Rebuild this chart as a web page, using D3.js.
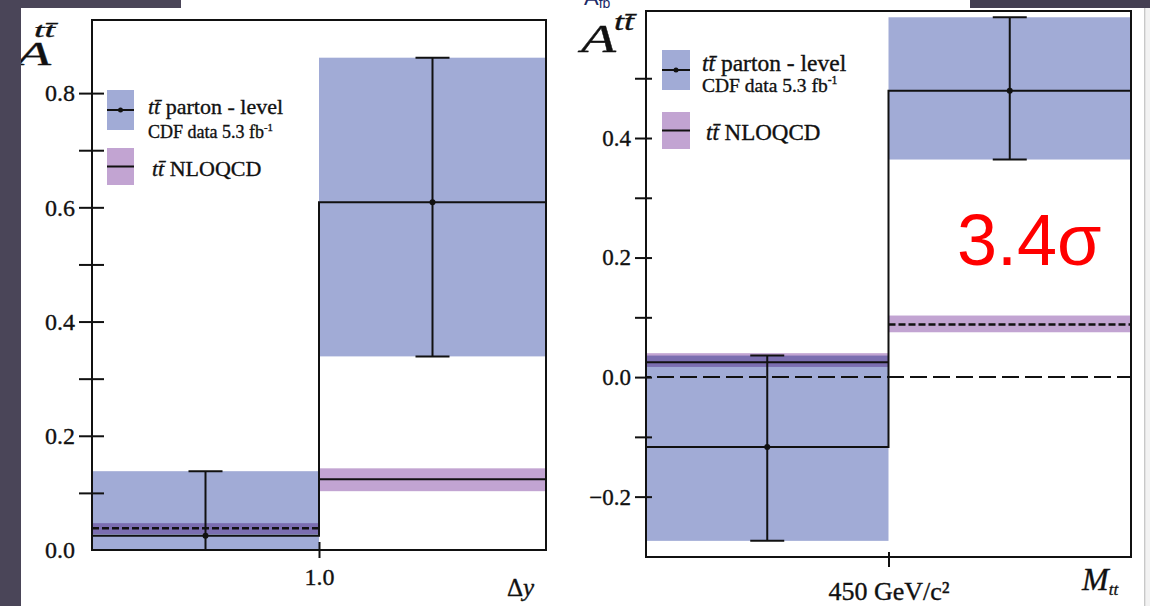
<!DOCTYPE html>
<html>
<head>
<meta charset="utf-8">
<script src="https://cdn.jsdelivr.net/npm/d3@7"></script>
<style>
  body { margin: 0; background: #fff; }
  svg { display: block; font-family: 'Liberation Serif', 'DejaVu Serif', serif; }
  .heavy { stroke: #111; stroke-width: 0.35px; }
</style>
</head>
<body>
<script>
// values

// left plot: bins in rapidity difference, edge at 1.0
var dyEdges = [0, 1, 2];
var dyTickValues = [1];
var dyTickLabels = ['1.0'];
var dyValues = [0.025, 0.609];
var dyErrLow = [-0.09, 0.339];
var dyErrHigh = [0.138, 0.862];
var dyNlo = [0.038, 0.124];
var dyNloLow = [0.028, 0.103];
var dyNloHigh = [0.047, 0.143];
var dyMajorTicks = [0, 0.2, 0.4, 0.6, 0.8];
var dyMinorTicks = [0.1, 0.3, 0.5, 0.7];

// right plot: bins in ttbar invariant mass, edge at 450 GeV/c^2
var mEdges = [0, 1, 2];
var mTickValues = [1];
var mTickLabels = ['450 GeV/c\u00b2'];
var mValues = [-0.117, 0.479];
var mErrLow = [-0.274, 0.364];
var mErrHigh = [0.036, 0.602];
var mNlo = [0.025, 0.088];
var mNloLow = [0.017, 0.075];
var mNloHigh = [0.040, 0.103];
var mMajorTicks = [-0.2, 0, 0.2, 0.4];
var mMinorTicks = [-0.1, 0.1, 0.3, 0.5];

var legendData = ' parton - level';
var legendData2 = 'CDF data 5.3 fb';
var legendNlo = ' NLOQCD';
var ttbar = 'tt\u0304';

var width = 1150,
    height = 606;

var blue = '#a1abd6',
    purple = '#c2a4d2',
    ink = '#111';

var svg = d3.select('body')
  .append('svg')
  .attr('width', width)
  .attr('height', height);

// one panel = frame, bands, step line, error bars, axes
function drawPanel(p) {
  var x = d3.scaleLinear()
    .domain([p.edges[0], p.edges[p.edges.length - 1]])
    .range([p.left, p.right]);
  var y = d3.scaleLinear()
    .domain(p.yDomain)
    .range([p.bottom, p.top]);

  var bins = p.values.map(function(v, i) {
    return {
      x0: p.edges[i], x1: p.edges[i + 1], v: v,
      lo: p.errLow[i], hi: p.errHigh[i],
      nlo: p.nlo[i], nloLo: p.nloLow[i], nloHi: p.nloHigh[i],
      dashed: p.nloDashed[i]
    };
  });

  svg.append('clipPath').attr('id', 'clip-' + p.id)
    .append('rect')
    .attr('x', p.left).attr('y', p.top)
    .attr('width', p.right - p.left).attr('height', p.bottom - p.top);

  var plot = svg.append('g').attr('clip-path', 'url(#clip-' + p.id + ')');

  // measured uncertainty bands
  plot.selectAll('rect.band').data(bins).enter().append('rect')
    .attr('class', 'band')
    .attr('x', function(d) { return x(d.x0); })
    .attr('width', function(d) { return x(d.x1) - x(d.x0); })
    .attr('y', function(d) { return y(d.hi); })
    .attr('height', function(d) { return y(d.lo) - y(d.hi); })
    .attr('fill', blue);

  // NLO prediction bands, multiplied so the overlap darkens
  plot.selectAll('rect.nlo').data(bins).enter().append('rect')
    .attr('class', 'nlo')
    .attr('x', function(d) { return x(d.x0); })
    .attr('width', function(d) { return x(d.x1) - x(d.x0); })
    .attr('y', function(d) { return y(d.nloHi); })
    .attr('height', function(d) { return y(d.nloLo) - y(d.nloHi); })
    .attr('fill', purple)
    .style('mix-blend-mode', 'multiply');

  // zero line (only where zero is inside the frame)
  if (p.yDomain[0] < 0) {
    plot.append('line')
      .attr('x1', p.left - 12).attr('x2', p.right)
      .attr('y1', y(0)).attr('y2', y(0))
      .attr('stroke', ink).attr('stroke-width', 2)
      .attr('stroke-dasharray', '17,6');
  }

  plot.selectAll('line.nloline').data(bins).enter().append('line')
    .attr('class', 'nloline')
    .attr('x1', function(d) { return x(d.x0); })
    .attr('x2', function(d) { return x(d.x1); })
    .attr('y1', function(d) { return y(d.nlo); })
    .attr('y2', function(d) { return y(d.nlo); })
    .attr('stroke', ink)
    .attr('stroke-width', function(d) { return d.dashed ? 2.5 : 2; })
    .attr('stroke-dasharray', function(d) { return d.dashed ? '7,3' : null; });

  // measured histogram as a step line
  var pts = bins.map(function(d) { return [d.x0, d.v]; });
  pts.push([bins[bins.length - 1].x1, bins[bins.length - 1].v]);
  var step = d3.line()
    .x(function(d) { return x(d[0]); })
    .y(function(d) { return y(d[1]); })
    .curve(d3.curveStepAfter);
  plot.append('path')
    .attr('d', step(pts))
    .attr('fill', 'none')
    .attr('stroke', ink)
    .attr('stroke-width', 2);

  // error bars
  var cap = 17;
  var eb = plot.selectAll('g.err').data(bins).enter().append('g').attr('class', 'err');
  eb.append('line')
    .attr('x1', function(d) { return x((d.x0 + d.x1) / 2); })
    .attr('x2', function(d) { return x((d.x0 + d.x1) / 2); })
    .attr('y1', function(d) { return y(d.lo); })
    .attr('y2', function(d) { return y(d.hi); });
  eb.append('line')
    .attr('x1', function(d) { return x((d.x0 + d.x1) / 2) - cap; })
    .attr('x2', function(d) { return x((d.x0 + d.x1) / 2) + cap; })
    .attr('y1', function(d) { return y(d.hi); })
    .attr('y2', function(d) { return y(d.hi); });
  eb.append('line')
    .attr('x1', function(d) { return x((d.x0 + d.x1) / 2) - cap; })
    .attr('x2', function(d) { return x((d.x0 + d.x1) / 2) + cap; })
    .attr('y1', function(d) { return y(d.lo); })
    .attr('y2', function(d) { return y(d.lo); });
  eb.selectAll('line').attr('stroke', ink).attr('stroke-width', 2);
  eb.append('circle')
    .attr('cx', function(d) { return x((d.x0 + d.x1) / 2); })
    .attr('cy', function(d) { return y(d.v); })
    .attr('r', 3).attr('fill', ink);

  // frame
  svg.append('rect')
    .attr('x', p.left).attr('y', p.top)
    .attr('width', p.right - p.left).attr('height', p.bottom - p.top)
    .attr('fill', 'none').attr('stroke', ink).attr('stroke-width', 2);

  // y axis: labelled major ticks outside, all ticks also poke inside
  var yOut = svg.append('g')
    .attr('transform', 'translate(' + p.left + ',0)')
    .call(d3.axisLeft(y).tickValues(p.major).tickSize(p.tickOut).tickPadding(4)
      .tickFormat(d3.format('.1f')));
  var yMinor = svg.append('g')
    .attr('transform', 'translate(' + p.left + ',0)')
    .call(d3.axisLeft(y).tickValues(p.minor).tickSize(p.tickOut).tickFormat(''));
  var yIn = svg.append('g')
    .attr('transform', 'translate(' + p.left + ',0)')
    .call(d3.axisRight(y).tickValues(p.major.concat(p.minor)).tickSize(p.tickIn).tickFormat(''));
  [yOut, yMinor, yIn].forEach(function(a) {
    a.select('.domain').remove();
    a.attr('color', ink).attr('font-family', null);
    a.selectAll('line').attr('stroke-width', 2);
    // no tick on the bottom corner
    a.selectAll('.tick').filter(function(d) { return d === p.yDomain[0]; }).select('line').remove();
  });
  yOut.selectAll('text').attr('font-size', p.labelSize).attr('fill', ink).attr('class', 'heavy');

  // x axis: the bin edge tick
  var xOut = svg.append('g')
    .attr('transform', 'translate(0,' + p.bottom + ')')
    .call(d3.axisBottom(x).tickValues(p.xTicks).tickSize(p.xTickOut).tickPadding(p.xPad)
      .tickFormat(function(d, i) { return p.xLabels[i]; }));
  var xIn = svg.append('g')
    .attr('transform', 'translate(0,' + p.bottom + ')')
    .call(d3.axisTop(x).tickValues(p.xTicks).tickSize(p.xTickIn).tickFormat(''));
  [xOut, xIn].forEach(function(a) {
    a.select('.domain').remove();
    a.attr('color', ink).attr('font-family', null);
    a.selectAll('line').attr('stroke-width', 2);
  });
  xOut.selectAll('text').attr('font-size', p.xLabelSize).attr('fill', ink).attr('class', 'heavy');
}

drawPanel({
  id: 'dy', left: 92, right: 546, top: 20, bottom: 550,
  yDomain: [0, 0.928], edges: dyEdges, values: dyValues,
  errLow: dyErrLow, errHigh: dyErrHigh,
  nlo: dyNlo, nloLow: dyNloLow, nloHigh: dyNloHigh, nloDashed: [true, false],
  major: dyMajorTicks, minor: dyMinorTicks, tickOut: 13, tickIn: 12, labelSize: 24,
  xTicks: dyTickValues, xLabels: dyTickLabels, xTickOut: 8, xTickIn: 8, xPad: 10, xLabelSize: 24
});

drawPanel({
  id: 'm', left: 646, right: 1131, top: 11, bottom: 557,
  yDomain: [-0.301, 0.6125], edges: mEdges, values: mValues,
  errLow: mErrLow, errHigh: mErrHigh,
  nlo: mNlo, nloLow: mNloLow, nloHigh: mNloHigh, nloDashed: [false, true],
  major: mMajorTicks, minor: mMinorTicks, tickOut: 11, tickIn: 6, labelSize: 23,
  xTicks: mTickValues, xLabels: mTickLabels, xTickOut: 10, xTickIn: 5, xPad: 15, xLabelSize: 26
});

// legends
function legend(lx, ly, w, h, gap, tx, base1, fs1, fs2, dy2, fs3) {
  var g = svg.append('g');
  g.append('rect').attr('x', lx).attr('y', ly).attr('width', w).attr('height', h).attr('fill', blue);
  g.append('line').attr('x1', lx).attr('x2', lx + w).attr('y1', ly + h / 2).attr('y2', ly + h / 2)
    .attr('stroke', ink).attr('stroke-width', 2);
  g.append('circle').attr('cx', lx + w / 2).attr('cy', ly + h / 2).attr('r', 2.5).attr('fill', ink);
  var t1 = g.append('text').attr('x', tx).attr('y', base1).attr('font-size', fs1)
    .attr('fill', ink).attr('class', 'heavy');
  t1.append('tspan').attr('font-style', 'italic').text(ttbar);
  t1.append('tspan').text(legendData);
  var t2 = g.append('text').attr('x', tx).attr('y', base1 + dy2).attr('font-size', fs2)
    .attr('fill', ink).attr('class', 'heavy');
  t2.append('tspan').text(legendData2);
  t2.append('tspan').attr('font-size', fs2 * 0.6).attr('dy', -fs2 * 0.4).text('-1');

  var y2 = ly + h + gap;
  g.append('rect').attr('x', lx).attr('y', y2).attr('width', w).attr('height', h - 3).attr('fill', purple);
  g.append('line').attr('x1', lx).attr('x2', lx + w).attr('y1', y2 + (h - 3) / 2).attr('y2', y2 + (h - 3) / 2)
    .attr('stroke', ink).attr('stroke-width', 2);
  var t3 = g.append('text').attr('x', tx + 4).attr('y', y2 + (h - 3) / 2 + 9).attr('font-size', fs3)
    .attr('fill', ink).attr('class', 'heavy');
  t3.append('tspan').attr('font-style', 'italic').text(ttbar);
  t3.append('tspan').text(legendNlo);
}
legend(107, 90, 27, 40, 18, 148, 114, 22, 18, 24, 22);
legend(662, 50, 28, 40, 22, 702, 71, 23.5, 19.5, 21, 23);

// axis titles, the A glyph of the original is wider than Times italic
function aLabel(x, y, fs, w, sx, sy, sfs, sw) {
  svg.append('text').attr('x', x).attr('y', y).attr('font-size', fs)
    .attr('font-style', 'italic').attr('fill', ink).attr('class', 'heavy')
    .attr('textLength', w).attr('lengthAdjust', 'spacingAndGlyphs')
    .text('A');
  svg.append('text').attr('x', sx).attr('y', sy).attr('font-size', sfs)
    .attr('font-style', 'italic').attr('fill', ink).attr('class', 'heavy')
    .attr('textLength', sw).attr('lengthAdjust', 'spacingAndGlyphs')
    .text(ttbar);
}
aLabel(17, 65, 34, 34, 34, 37, 22, 21);
aLabel(581, 52, 41, 35, 614, 30, 26, 20);

var dyLab = svg.append('text').attr('x', 507).attr('y', 596).attr('font-size', 25)
  .attr('fill', ink).attr('class', 'heavy');
dyLab.append('tspan').text('\u0394');
dyLab.append('tspan').attr('font-style', 'italic').text('y');

var mLab = svg.append('text').attr('x', 1082).attr('y', 590).attr('font-size', 32)
  .attr('font-style', 'italic').attr('fill', ink).attr('class', 'heavy');
mLab.append('tspan').text('M');
mLab.append('tspan').attr('font-size', 17).attr('dy', 5).text('tt');

// significance note
svg.append('text')
  .attr('x', 957).attr('y', 265)
  .attr('font-family', "'Liberation Sans', Arial, sans-serif")
  .attr('font-size', 72)
  .attr('fill', '#ff0000')
  .text('3.4\u03c3');

// cut-off title of the slide behind
var afb = svg.append('text').attr('x', 584).attr('y', 5)
  .attr('font-family', "'Liberation Sans', Arial, sans-serif")
  .attr('font-size', 22).attr('fill', '#1c2a66');
afb.append('tspan').text('A');
afb.append('tspan').attr('font-size', 14).attr('dy', 3).text('fb');

// slide background strips
svg.append('rect').attr('x', 0).attr('y', 0).attr('width', 21).attr('height', height).attr('fill', '#4a4558');
svg.append('rect').attr('x', 0).attr('y', 0).attr('width', 181).attr('height', 8).attr('fill', '#4a4558');
svg.append('rect').attr('x', 970).attr('y', 0).attr('width', 180).attr('height', 8).attr('fill', '#443f52');
svg.append('rect').attr('x', 1144).attr('y', 8).attr('width', 1.5).attr('height', height).attr('fill', '#c8c8c8');
svg.append('rect').attr('x', 1146).attr('y', 8).attr('width', 4).attr('height', height).attr('fill', '#f2f2f2');
</script>
</body>
</html>
